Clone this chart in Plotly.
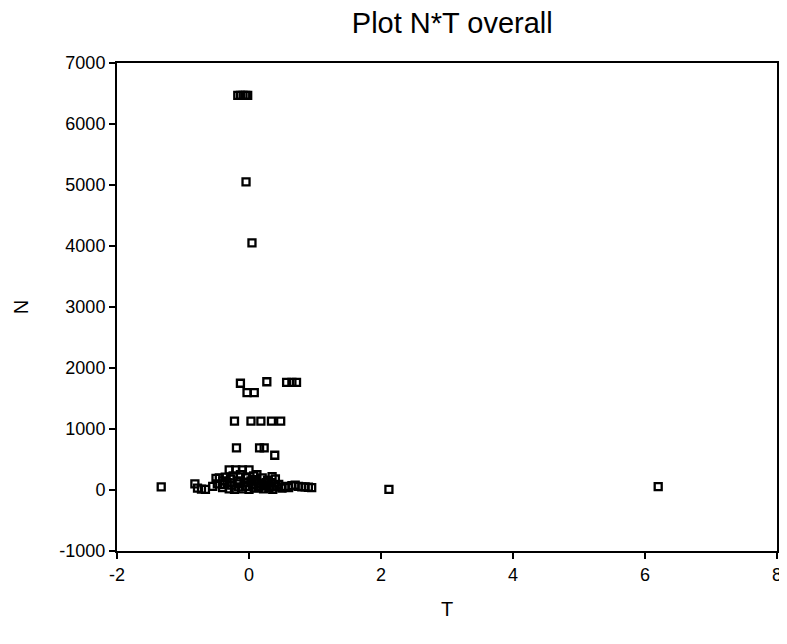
import plotly.graph_objects as go

# ---- data ----
T_top = [-0.17, -0.13, -0.09, -0.05, -0.02]
N_top = [6470, 6470, 6470, 6470, 6470]

T_high = [-0.045, 0.045]
N_high = [5050, 4050]

T_mid = [-0.13, -0.03, 0.08, 0.27, 0.57, 0.65, 0.72,
         -0.22, 0.03, 0.18, 0.34, 0.48,
         -0.19, 0.16, 0.23, 0.39]
N_mid = [1750, 1595, 1595, 1775, 1765, 1765, 1765,
         1130, 1130, 1130, 1130, 1130,
         690, 690, 690, 570]

T_low = [-1.33, -0.82, -0.78, -0.72, -0.66, -0.55, -0.50, -0.45, -0.40, -0.40,
         -0.36, -0.33, -0.30, -0.30, -0.26, -0.24, -0.22, -0.20, -0.18, -0.16,
         -0.13, -0.10, -0.10, -0.07, -0.05, -0.03, 0.00, 0.00, 0.03, 0.05,
         0.08, 0.10, 0.12, 0.15, 0.18, 0.20, 0.22, 0.25, 0.28, 0.30,
         0.33, 0.36, 0.40, 0.42, 0.45, 0.50, 0.55, 0.60, 0.65, 0.70,
         0.75, 0.80, 0.85, 0.90, 0.95, 2.12, 6.20,
         -0.48, -0.38, -0.28, -0.15, -0.02, 0.07, 0.14, 0.26, 0.35, 0.38]
N_low = [50, 100, 30, 15, 10, 60, 190, 200, 150, 40,
         210, 120, 330, 20, 80, 230, 10, 330, 150, 50,
         250, 330, 20, 120, 200, 60, 330, 10, 150, 90,
         30, 170, 250, 60, 110, 200, 20, 70, 160, 40,
         120, 10, 180, 50, 90, 30, 60, 40, 70, 80,
         60, 50, 50, 45, 40, 10, 55,
         100, 90, 180, 100, 130, 230, 40, 120, 220, 60]

T_all = T_top + T_high + T_mid + T_low
N_all = N_top + N_high + N_mid + N_low

x_ticks = [-2, 0, 2, 4, 6, 8]
y_ticks = [-1000, 0, 1000, 2000, 3000, 4000, 5000, 6000, 7000]

FONT = "Liberation Sans, Arial, sans-serif"

fig = go.Figure()
fig.add_trace(go.Scatter(
    x=T_all, y=N_all, mode="markers",
    marker=dict(symbol="square-open", size=7, color="black",
                line=dict(width=2.3, color="black")),
    showlegend=False,
))

# the page body adds an 8px margin, so the figure is sized to fit the window
fig.update_layout(
    width=779, height=636,
    margin=dict(l=109, r=5, t=55, b=93),
    paper_bgcolor="white", plot_bgcolor="white",
    font=dict(family=FONT, color="black"),
    title=dict(text="Plot N*T overall", font=dict(size=29, family=FONT, color="black"),
               x=0.508, xref="paper", xanchor="center",
               y=0.977, yref="container", yanchor="middle"),
)
fig.update_xaxes(
    range=[-2, 8], tickvals=x_ticks, ticktext=[str(v) for v in x_ticks],
    showgrid=False, zeroline=False,
    showline=True, linecolor="black", linewidth=2, mirror=True,
    ticks="outside", ticklen=6, tickwidth=2, tickcolor="black",
    ticklabeloverflow="allow",
    tickfont=dict(size=18, family=FONT, color="black"),
    title=dict(text="T", font=dict(size=20, family=FONT, color="black"), standoff=18),
)
fig.update_yaxes(
    range=[-1000, 7000], tickvals=y_ticks, ticktext=[str(v) for v in y_ticks],
    showgrid=False, zeroline=False,
    showline=True, linecolor="black", linewidth=2, mirror=True,
    ticks="outside", ticklen=6, tickwidth=2, tickcolor="black",
    tickfont=dict(size=18, family=FONT, color="black"),
    title=dict(text="N", font=dict(size=20, family=FONT, color="black"), standoff=25),
)

fig.write_html("out.html")
